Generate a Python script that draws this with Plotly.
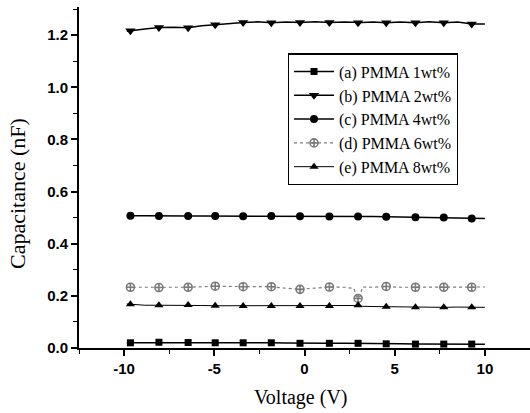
import plotly.graph_objects as go

# Marker voltages (V)
v_mark = [-9.65, -8.07, -6.45, -4.95, -3.4, -1.84, -0.25, 1.38, 2.97, 4.53, 6.15, 7.72, 9.27]

# Capacitance (nF) at marker voltages
cap_a = [0.020, 0.022, 0.021, 0.020, 0.020, 0.020, 0.018, 0.018, 0.018, 0.016, 0.015, 0.015, 0.015]
cap_b = [1.217, 1.229, 1.228, 1.240, 1.249, 1.248, 1.249, 1.249, 1.248, 1.248, 1.248, 1.248, 1.243]
cap_c = [0.507, 0.506, 0.506, 0.506, 0.505, 0.506, 0.505, 0.504, 0.504, 0.503, 0.502, 0.501, 0.497]
cap_d = [0.233, 0.232, 0.233, 0.237, 0.235, 0.235, 0.225, 0.234, 0.190, 0.236, 0.233, 0.233, 0.233]
cap_e = [0.168, 0.164, 0.165, 0.162, 0.161, 0.161, 0.161, 0.161, 0.164, 0.158, 0.156, 0.156, 0.156]

# Line voltages (V) and traced curves
v_line = [-9.85, -9.65, -8.85, -8.07, -7.25, -6.45, -5.7, -4.95, -4.15, -3.4, -2.6, -1.84,
          -1.0, -0.25, 0.6, 1.38, 2.2, 2.75, 2.85, 2.97, 3.1, 3.2, 3.8, 4.53, 5.3, 6.15,
          6.9, 7.72, 8.5, 9.27, 10.0]
line_a = [0.020, 0.020, 0.021, 0.022, 0.021, 0.021, 0.020, 0.020, 0.020, 0.020, 0.020, 0.020,
          0.019, 0.018, 0.018, 0.018, 0.018, 0.018, 0.018, 0.018, 0.018, 0.017, 0.017, 0.016, 0.016, 0.015,
          0.015, 0.015, 0.015, 0.015, 0.014]
line_b = [1.215, 1.217, 1.224, 1.229, 1.230, 1.228, 1.236, 1.240, 1.246, 1.249, 1.251, 1.248,
          1.250, 1.249, 1.251, 1.249, 1.250, 1.249, 1.249, 1.248, 1.249, 1.249, 1.250, 1.248, 1.250, 1.248,
          1.251, 1.248, 1.250, 1.243, 1.243]
line_c = [0.508, 0.507, 0.507, 0.506, 0.506, 0.506, 0.506, 0.506, 0.505, 0.505, 0.505, 0.506,
          0.505, 0.505, 0.505, 0.504, 0.504, 0.504, 0.504, 0.504, 0.504, 0.504, 0.504, 0.503, 0.502, 0.502,
          0.501, 0.501, 0.500, 0.497, 0.497]
line_d = [0.233, 0.233, 0.231, 0.232, 0.232, 0.233, 0.235, 0.237, 0.236, 0.235, 0.234, 0.235,
          0.229, 0.225, 0.230, 0.234, 0.233, 0.228, 0.200, 0.190, 0.200, 0.234, 0.233, 0.236, 0.233, 0.233,
          0.234, 0.233, 0.234, 0.233, 0.234]
line_e = [0.169, 0.168, 0.164, 0.164, 0.164, 0.165, 0.163, 0.162, 0.162, 0.161, 0.161, 0.161,
          0.161, 0.161, 0.161, 0.161, 0.161, 0.162, 0.163, 0.164, 0.162, 0.160, 0.159, 0.158, 0.158, 0.156,
          0.157, 0.156, 0.157, 0.156, 0.156]

labels = ["(a) PMMA 1wt%", "(b) PMMA 2wt%", "(c) PMMA 4wt%", "(d) PMMA 6wt%", "(e) PMMA 8wt%"]

x_ticks = [-10, -5, 0, 5, 10]
x_ticklabels = ["-10", "-5", "0", "5", "10"]
y_ticks = [0.0, 0.2, 0.4, 0.6, 0.8, 1.0, 1.2]
y_ticklabels = ["0.0", "0.2", "0.4", "0.6", "0.8", "1.0", "1.2"]

styles = [
    dict(color="black", width=1.5, dash="solid", symbol="square", msize=7, mline=0),
    dict(color="black", width=1.5, dash="solid", symbol="triangle-down", msize=9, mline=0),
    dict(color="black", width=1.5, dash="solid", symbol="circle", msize=8, mline=0),
    dict(color="#7a7a7a", width=1.2, dash="dot", symbol="circle-cross-open", msize=8, mline=1.6),
    dict(color="black", width=1.0, dash="solid", symbol="triangle-up", msize=8, mline=0),
]

marks = [cap_a, cap_b, cap_c, cap_d, cap_e]
lines = [line_a, line_b, line_c, line_d, line_e]

fig = go.Figure()
for lab, st, ym, yl in zip(labels, styles, marks, lines):
    fig.add_trace(go.Scatter(x=v_line, y=yl, mode="lines", showlegend=False,
                             line=dict(color=st["color"], width=st["width"], dash=st["dash"]),
                             hoverinfo="skip"))
    fig.add_trace(go.Scatter(x=v_mark, y=ym, mode="markers", showlegend=False,
                             marker=dict(symbol=st["symbol"], size=st["msize"], color=st["color"],
                                         line=dict(color=st["color"], width=st["mline"]))))
    fig.add_trace(go.Scatter(x=[None], y=[None], mode="lines+markers", name=lab,
                             line=dict(color=st["color"], width=st["width"], dash=st["dash"]),
                             marker=dict(symbol=st["symbol"], size=st["msize"], color=st["color"],
                                         line=dict(color=st["color"], width=st["mline"]))))

tickfont = dict(family="Liberation Sans", size=15, color="black")

fig.update_layout(
    width=530, height=413,
    margin=dict(l=79, r=0, t=7, b=65, autoexpand=False),
    paper_bgcolor="white", plot_bgcolor="white",
    font=dict(family="Liberation Serif", color="black"),
    xaxis=dict(range=[-12.5, 12.5], tickvals=x_ticks, ticktext=["<b>%s</b>" % t for t in x_ticklabels],
               showline=True, linecolor="black", linewidth=2, automargin=False,
               ticks="outside", ticklen=6, tickwidth=1.5, tickcolor="black",
               minor=dict(dtick=2.5, tick0=0, ticks="outside", ticklen=4, tickcolor="black", tickwidth=1),
               showgrid=False, zeroline=False, tickfont=tickfont),
    yaxis=dict(range=[0, 1.308], tickvals=y_ticks, ticktext=["<b>%s</b>" % t for t in y_ticklabels],
               showline=True, linecolor="black", linewidth=2, automargin=False,
               ticks="outside", ticklen=6, tickwidth=1.5, tickcolor="black",
               minor=dict(dtick=0.1, tick0=0, ticks="outside", ticklen=4, tickcolor="black", tickwidth=1),
               showgrid=False, zeroline=False, tickfont=tickfont),
    legend=dict(x=0.463, y=0.864, xanchor="left", yanchor="top",
                bordercolor="black", borderwidth=1.2, bgcolor="white",
                font=dict(family="Liberation Serif", size=16, color="black"),
                tracegroupgap=0, itemwidth=40),
    annotations=[
        dict(text="Voltage (V)", xref="paper", yref="paper", x=(301 - 79) / 451, y=-(397 - 348) / 341,
             xanchor="center", yanchor="middle", showarrow=False,
             font=dict(family="Liberation Serif", size=20, color="black")),
        dict(text="Capacitance (nF)", xref="paper", yref="paper", x=-(79 - 17) / 451, y=(348 - 193) / 341,
             xanchor="center", yanchor="middle", showarrow=False, textangle=-90,
             font=dict(family="Liberation Serif", size=22, color="black")),
    ],
)

fig.write_html("out.html", config={"displayModeBar": False},
               post_script="document.body.style.margin='0';document.body.style.overflow='hidden';")
